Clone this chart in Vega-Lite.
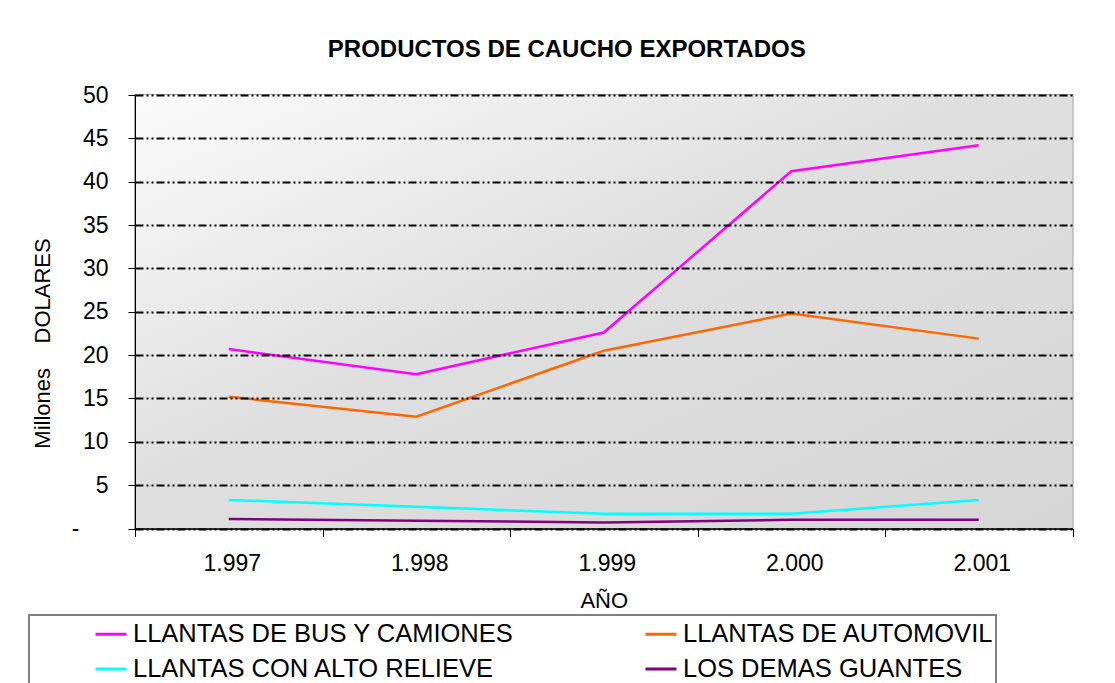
{
  "$schema": "https://vega.github.io/schema/vega-lite/v6.json",
  "width": 937.5,
  "height": 433.5,
  "autosize": {"type": "none"},
  "padding": {"left": 135, "top": 95, "right": 42.5, "bottom": 154.5},
  "background": "white",
  "config": {
    "font": "Liberation Sans",
    "view": {"stroke": "#a0a0a0", "strokeWidth": 2},
    "legend": {"strokeWidth": 2}
  },
  "title": {
    "text": "PRODUCTOS DE CAUCHO EXPORTADOS",
    "font": "Liberation Sans",
    "fontSize": 24,
    "fontWeight": "bold",
    "color": "black",
    "anchor": "middle",
    "dx": -37,
    "baseline": "alphabetic",
    "offset": 3
  },
  "data": {
    "values": [
      {"anio": "1.997", "serie": "LLANTAS DE BUS Y CAMIONES", "valor": 20.7},
      {"anio": "1.998", "serie": "LLANTAS DE BUS Y CAMIONES", "valor": 17.8},
      {"anio": "1.999", "serie": "LLANTAS DE BUS Y CAMIONES", "valor": 22.6},
      {"anio": "2.000", "serie": "LLANTAS DE BUS Y CAMIONES", "valor": 41.2},
      {"anio": "2.001", "serie": "LLANTAS DE BUS Y CAMIONES", "valor": 44.2},
      {"anio": "1.997", "serie": "LLANTAS DE AUTOMOVIL", "valor": 15.2},
      {"anio": "1.998", "serie": "LLANTAS DE AUTOMOVIL", "valor": 12.9},
      {"anio": "1.999", "serie": "LLANTAS DE AUTOMOVIL", "valor": 20.5},
      {"anio": "2.000", "serie": "LLANTAS DE AUTOMOVIL", "valor": 24.8},
      {"anio": "2.001", "serie": "LLANTAS DE AUTOMOVIL", "valor": 21.9},
      {"anio": "1.997", "serie": "LLANTAS CON ALTO RELIEVE", "valor": 3.3},
      {"anio": "1.998", "serie": "LLANTAS CON ALTO RELIEVE", "valor": 2.5},
      {"anio": "1.999", "serie": "LLANTAS CON ALTO RELIEVE", "valor": 1.7},
      {"anio": "2.000", "serie": "LLANTAS CON ALTO RELIEVE", "valor": 1.7},
      {"anio": "2.001", "serie": "LLANTAS CON ALTO RELIEVE", "valor": 3.3},
      {"anio": "1.997", "serie": "LOS DEMAS GUANTES", "valor": 1.1},
      {"anio": "1.998", "serie": "LOS DEMAS GUANTES", "valor": 0.9},
      {"anio": "1.999", "serie": "LOS DEMAS GUANTES", "valor": 0.7},
      {"anio": "2.000", "serie": "LOS DEMAS GUANTES", "valor": 1.0},
      {"anio": "2.001", "serie": "LOS DEMAS GUANTES", "valor": 1.0}
    ]
  },
  "layer": [
    {
      "data": {"values": [{"bg": "fondo"}]},
      "mark": {
        "type": "rect",
        "color": {
          "gradient": "linear",
          "x1": 0, "y1": 0, "x2": 1, "y2": 1,
          "stops": [
            {"offset": 0, "color": "#fbfbfb"},
            {"offset": 0.45, "color": "#dfdfdf"},
            {"offset": 1, "color": "#d6d6d6"}
          ]
        }
      },
      "encoding": {
        "y": {"datum": 0, "type": "quantitative"},
        "y2": {"datum": 50}
      }
    },
    {
      "mark": {"type": "line", "strokeWidth": 2.5},
      "encoding": {
        "x": {
          "field": "anio",
          "type": "ordinal",
          "bandPosition": 0.5,
          "scale": {"type": "band", "paddingInner": 0, "paddingOuter": 0},
          "axis": {
            "title": "AÑO",
            "titleFontSize": 22,
            "titleFontWeight": "normal",
            "titleColor": "black",
            "titlePadding": 15,
            "labelAngle": 0,
            "labelFontSize": 23,
            "labelColor": "black",
            "labelPadding": 16,
            "labelOffset": 3,
            "tickBand": "extent",
            "tickSize": 8,
            "tickColor": "black",
            "domainColor": "black",
            "domainWidth": 1.5,
            "grid": false,
            "zindex": 1
          }
        },
        "y": {
          "field": "valor",
          "type": "quantitative",
          "scale": {"domain": [0, 50], "nice": false},
          "axis": {
            "values": [0, 5, 10, 15, 20, 25, 30, 35, 40, 45, 50],
            "title": "Millones\u00a0\u00a0\u00a0\u00a0DOLARES",
            "titleFontSize": 22,
            "titleFontWeight": "normal",
            "titleColor": "black",
            "titleAngle": 270,
            "titleAlign": "center",
            "titleBaseline": "alphabetic",
            "titleX": -86,
            "titleY": 248,
            "labelFontSize": 23,
            "labelColor": "black",
            "labelPadding": {"condition": {"test": "datum.value === 0", "value": 49}, "value": 20},
            "labelExpr": "datum.value === 0 ? '-' : datum.label",
            "tickSize": 7,
            "tickColor": "black",
            "domainColor": "black",
            "domainWidth": 1,
            "grid": true,
            "gridColor": "black",
            "gridWidth": 2,
            "gridDash": [8, 3, 2, 3, 2, 3],
            "zindex": 1
          }
        },
        "color": {
          "field": "serie",
          "type": "nominal",
          "scale": {
            "domain": ["LLANTAS DE BUS Y CAMIONES", "LLANTAS CON ALTO RELIEVE", "LLANTAS DE AUTOMOVIL", "LOS DEMAS GUANTES"],
            "range": ["#ff00ff", "#00ffff", "#ff6600", "#800080"]
          },
          "legend": {
            "orient": "none",
            "legendX": -106,
            "legendY": 520,
            "columns": 2,
            "title": null,
            "symbolType": "stroke",
            "symbolSize": 961,
            "symbolStrokeWidth": 3,
            "symbolOffset": 63,
            "labelOffset": 5,
            "labelFontSize": 25.5,
            "labelColor": "black",
            "labelLimit": 0,
            "columnPadding": 67,
            "rowPadding": 4,
            "padding": 2,
            "strokeColor": "#808080",
            "fillColor": "white"
          }
        }
      }
    }
  ]
}
